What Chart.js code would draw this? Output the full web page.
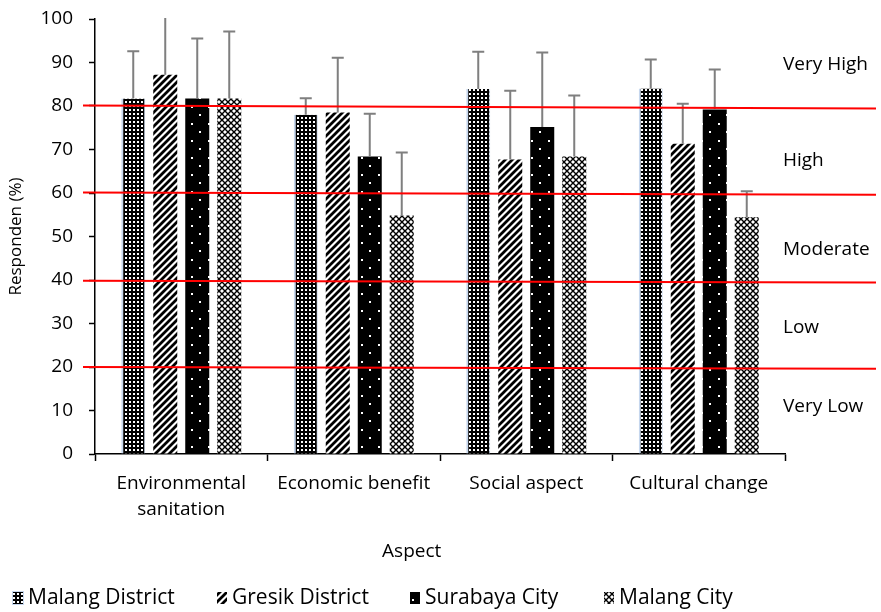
<!DOCTYPE html>
<html>
<head>
<meta charset="utf-8">
<script src="https://cdn.jsdelivr.net/npm/chart.js@4"></script>
<style>
    html, body { margin: 0; padding: 0; background: #fff; }
    #wrap { width: 881px; height: 612px; }
</style>
</head>
<body>
<div id="wrap"><canvas id="aspectChart"></canvas></div>
<script>
// Respondent perception by aspect and region
const aspects = [['Environmental', 'sanitation'], 'Economic benefit', 'Social aspect', 'Cultural change'];
const regions = ['Malang District', 'Gresik District', 'Surabaya City', 'Malang City'];

const malangDistrict = [81.7, 78.0, 83.9, 84.0];
const gresikDistrict = [87.2, 78.5, 67.7, 71.3];
const surabayaCity = [81.7, 68.4, 75.2, 79.2];
const malangCity = [81.7, 54.8, 68.4, 54.4];

// upper error (SD) per bar
const malangDistrictErr = [10.9, 3.8, 8.6, 6.7];
const gresikDistrictErr = [15.0, 12.6, 15.8, 9.2];
const surabayaCityErr = [13.8, 9.8, 17.1, 9.2];
const malangCityErr = [15.4, 14.5, 14.0, 6.0];

const yTicks = [0, 10, 20, 30, 40, 50, 60, 70, 80, 90, 100];

// category boundaries, value at left end / right end
const levelLines = [[80.1, 79.4], [60.1, 59.6], [39.8, 39.4], [20.0, 19.6]];
const levelNames = ['Very High', 'High', 'Moderate', 'Low', 'Very Low'];
const levelLabelY = [89.5, 67.5, 47.0, 29.0, 11.0];

// legend entry offsets along the bottom row
const legendX = [13, 217, 410, 604];

const FONT = "'Open Sans', 'Liberation Sans', sans-serif";

function makePattern(w, h, draw) {
    const c = document.createElement('canvas');
    c.width = w;
    c.height = h;
    const g = c.getContext('2d');
    draw(g, w, h);
    return g.createPattern(c, 'repeat');
}

// small white squares on black
const gridPattern = makePattern(4, 4, (g) => {
    g.fillStyle = '#000';
    g.fillRect(0, 0, 4, 4);
    g.fillStyle = '#fff';
    g.fillRect(1, 1, 2, 2);
});

// wide upward diagonals
const stripePattern = makePattern(7, 7, (g, s) => {
    g.fillStyle = '#fff';
    g.fillRect(0, 0, s, s);
    g.strokeStyle = '#000';
    g.lineWidth = 2.8;
    g.beginPath();
    g.moveTo(-2, 2); g.lineTo(2, -2);
    g.moveTo(0, s); g.lineTo(s, 0);
    g.moveTo(s - 2, s + 2); g.lineTo(s + 2, s - 2);
    g.stroke();
});

// sparse staggered dots on black
const dotPattern = makePattern(17, 17, (g) => {
    g.fillStyle = '#000';
    g.fillRect(0, 0, 17, 17);
    g.fillStyle = '#fff';
    g.fillRect(4, 4, 2, 2);
    g.fillRect(12, 12, 2, 2);
});

// lattice / checker weave
const latticePattern = makePattern(6, 6, (g, s) => {
    g.fillStyle = '#fff';
    g.fillRect(0, 0, s, s);
    g.strokeStyle = '#000';
    g.lineWidth = 1.4;
    g.beginPath();
    g.moveTo(0, 0); g.lineTo(s, s);
    g.moveTo(s, 0); g.lineTo(0, s);
    g.stroke();
});

const errors = [malangDistrictErr, gresikDistrictErr, surabayaCityErr, malangCityErr];

// upward error bars with caps
const errorBarPlugin = {
    id: 'errorBars',
    afterDatasetsDraw(chart) {
        const ctx = chart.ctx;
        const y = chart.scales.y;
        const area = chart.chartArea;
        ctx.save();
        ctx.beginPath();
        ctx.rect(area.left, area.top - 1, area.right - area.left, area.bottom - area.top + 1);
        ctx.clip();
        ctx.strokeStyle = '#7f7f7f';
        ctx.lineWidth = 2;
        chart.data.datasets.forEach((ds, i) => {
            const meta = chart.getDatasetMeta(i);
            meta.data.forEach((bar, j) => {
                const top = y.getPixelForValue(ds.data[j] + errors[i][j]);
                ctx.beginPath();
                ctx.moveTo(bar.x, bar.y);
                ctx.lineTo(bar.x, top);
                ctx.moveTo(bar.x - 6, top);
                ctx.lineTo(bar.x + 6, top);
                ctx.stroke();
            });
        });
        ctx.restore();
    }
};

// red category boundaries, level names, axis title and legend row
const levelPlugin = {
    id: 'levels',
    afterDraw(chart) {
        const ctx = chart.ctx;
        const y = chart.scales.y;
        const area = chart.chartArea;
        const x0 = area.left - 12;
        const x1 = chart.width - 5;
        ctx.save();
        ctx.strokeStyle = '#ff0000';
        ctx.lineWidth = 2;
        levelLines.forEach(([a, b]) => {
            ctx.beginPath();
            ctx.moveTo(x0, y.getPixelForValue(a));
            ctx.lineTo(x1, y.getPixelForValue(b));
            ctx.stroke();
        });
        ctx.fillStyle = '#000';
        ctx.font = '19px ' + FONT;
        ctx.textAlign = 'left';
        ctx.textBaseline = 'middle';
        levelNames.forEach((name, i) => {
            ctx.fillText(name, area.right - 2, y.getPixelForValue(levelLabelY[i]));
        });
        // x axis title
        ctx.textAlign = 'center';
        ctx.fillText('Aspect', area.left + (area.right - area.left) * 0.459, 552);

        // legend
        ctx.font = '21px ' + FONT;
        ctx.textAlign = 'left';
        chart.data.datasets.forEach((ds, i) => {
            const bx = legendX[i];
            ctx.fillStyle = ds.backgroundColor;
            ctx.fillRect(bx, 592, 10, 12);
            if (i === 0) {
                ctx.strokeStyle = ds.borderColor;
                ctx.lineWidth = 1;
                ctx.strokeRect(bx - 0.5, 591.5, 11, 13);
            }
            ctx.fillStyle = '#000';
            ctx.fillText(ds.label, bx + 15, 598);
        });
        ctx.restore();
    }
};

const ctx = document.getElementById('aspectChart');

new Chart(ctx, {
    type: 'bar',
    data: {
        labels: aspects,
        datasets: [{
            label: regions[0],
            data: malangDistrict,
            backgroundColor: gridPattern,
            borderColor: '#c6d7ee',
            borderWidth: { left: 2, right: 1, top: 0, bottom: 0 },
            borderSkipped: false
        }, {
            label: regions[1],
            data: gresikDistrict,
            backgroundColor: stripePattern,
            borderWidth: 0
        }, {
            label: regions[2],
            data: surabayaCity,
            backgroundColor: dotPattern,
            borderWidth: 0
        }, {
            label: regions[3],
            data: malangCity,
            backgroundColor: latticePattern,
            borderWidth: 0
        }]
    },
    options: {
        responsive: true,
        maintainAspectRatio: false,
        animation: false,
        layout: {
            padding: { top: 19, right: 96, bottom: 0, left: 0 }
        },
        datasets: {
            bar: {
                categoryPercentage: 0.742,
                barPercentage: 0.75
            }
        },
        plugins: {
            tooltip: { enabled: false },
            legend: { display: false }
        },
        scales: {
            y: {
                min: 0,
                max: 100,
                afterBuildTicks(scale) {
                    scale.ticks = yTicks.map(v => ({ value: v }));
                },
                afterFit(scale) {
                    scale.width = 95;
                    scale.paddingTop = 0;
                    scale.paddingBottom = 0;
                },
                ticks: {
                    color: '#000',
                    padding: 16,
                    font: { family: FONT, size: 19 }
                },
                grid: {
                    drawOnChartArea: false,
                    tickLength: 6,
                    tickWidth: 1.5,
                    tickColor: '#000'
                },
                border: { color: '#000', width: 1.5 },
                title: {
                    display: true,
                    text: 'Responden (%)',
                    color: '#000',
                    padding: { top: 6, bottom: 0 },
                    font: { family: FONT, size: 17 }
                }
            },
            x: {
                afterFit(scale) {
                    scale.height = 158;
                },
                ticks: {
                    color: '#000',
                    padding: 10,
                    maxRotation: 0,
                    font: { family: FONT, size: 19, lineHeight: 1.35 }
                },
                grid: {
                    offset: true,
                    drawOnChartArea: false,
                    tickLength: 7,
                    tickWidth: 1.5,
                    tickColor: '#000'
                },
                border: { color: '#000', width: 1.5 }
            }
        }
    },
    plugins: [errorBarPlugin, levelPlugin]
});
</script>
</body>
</html>
